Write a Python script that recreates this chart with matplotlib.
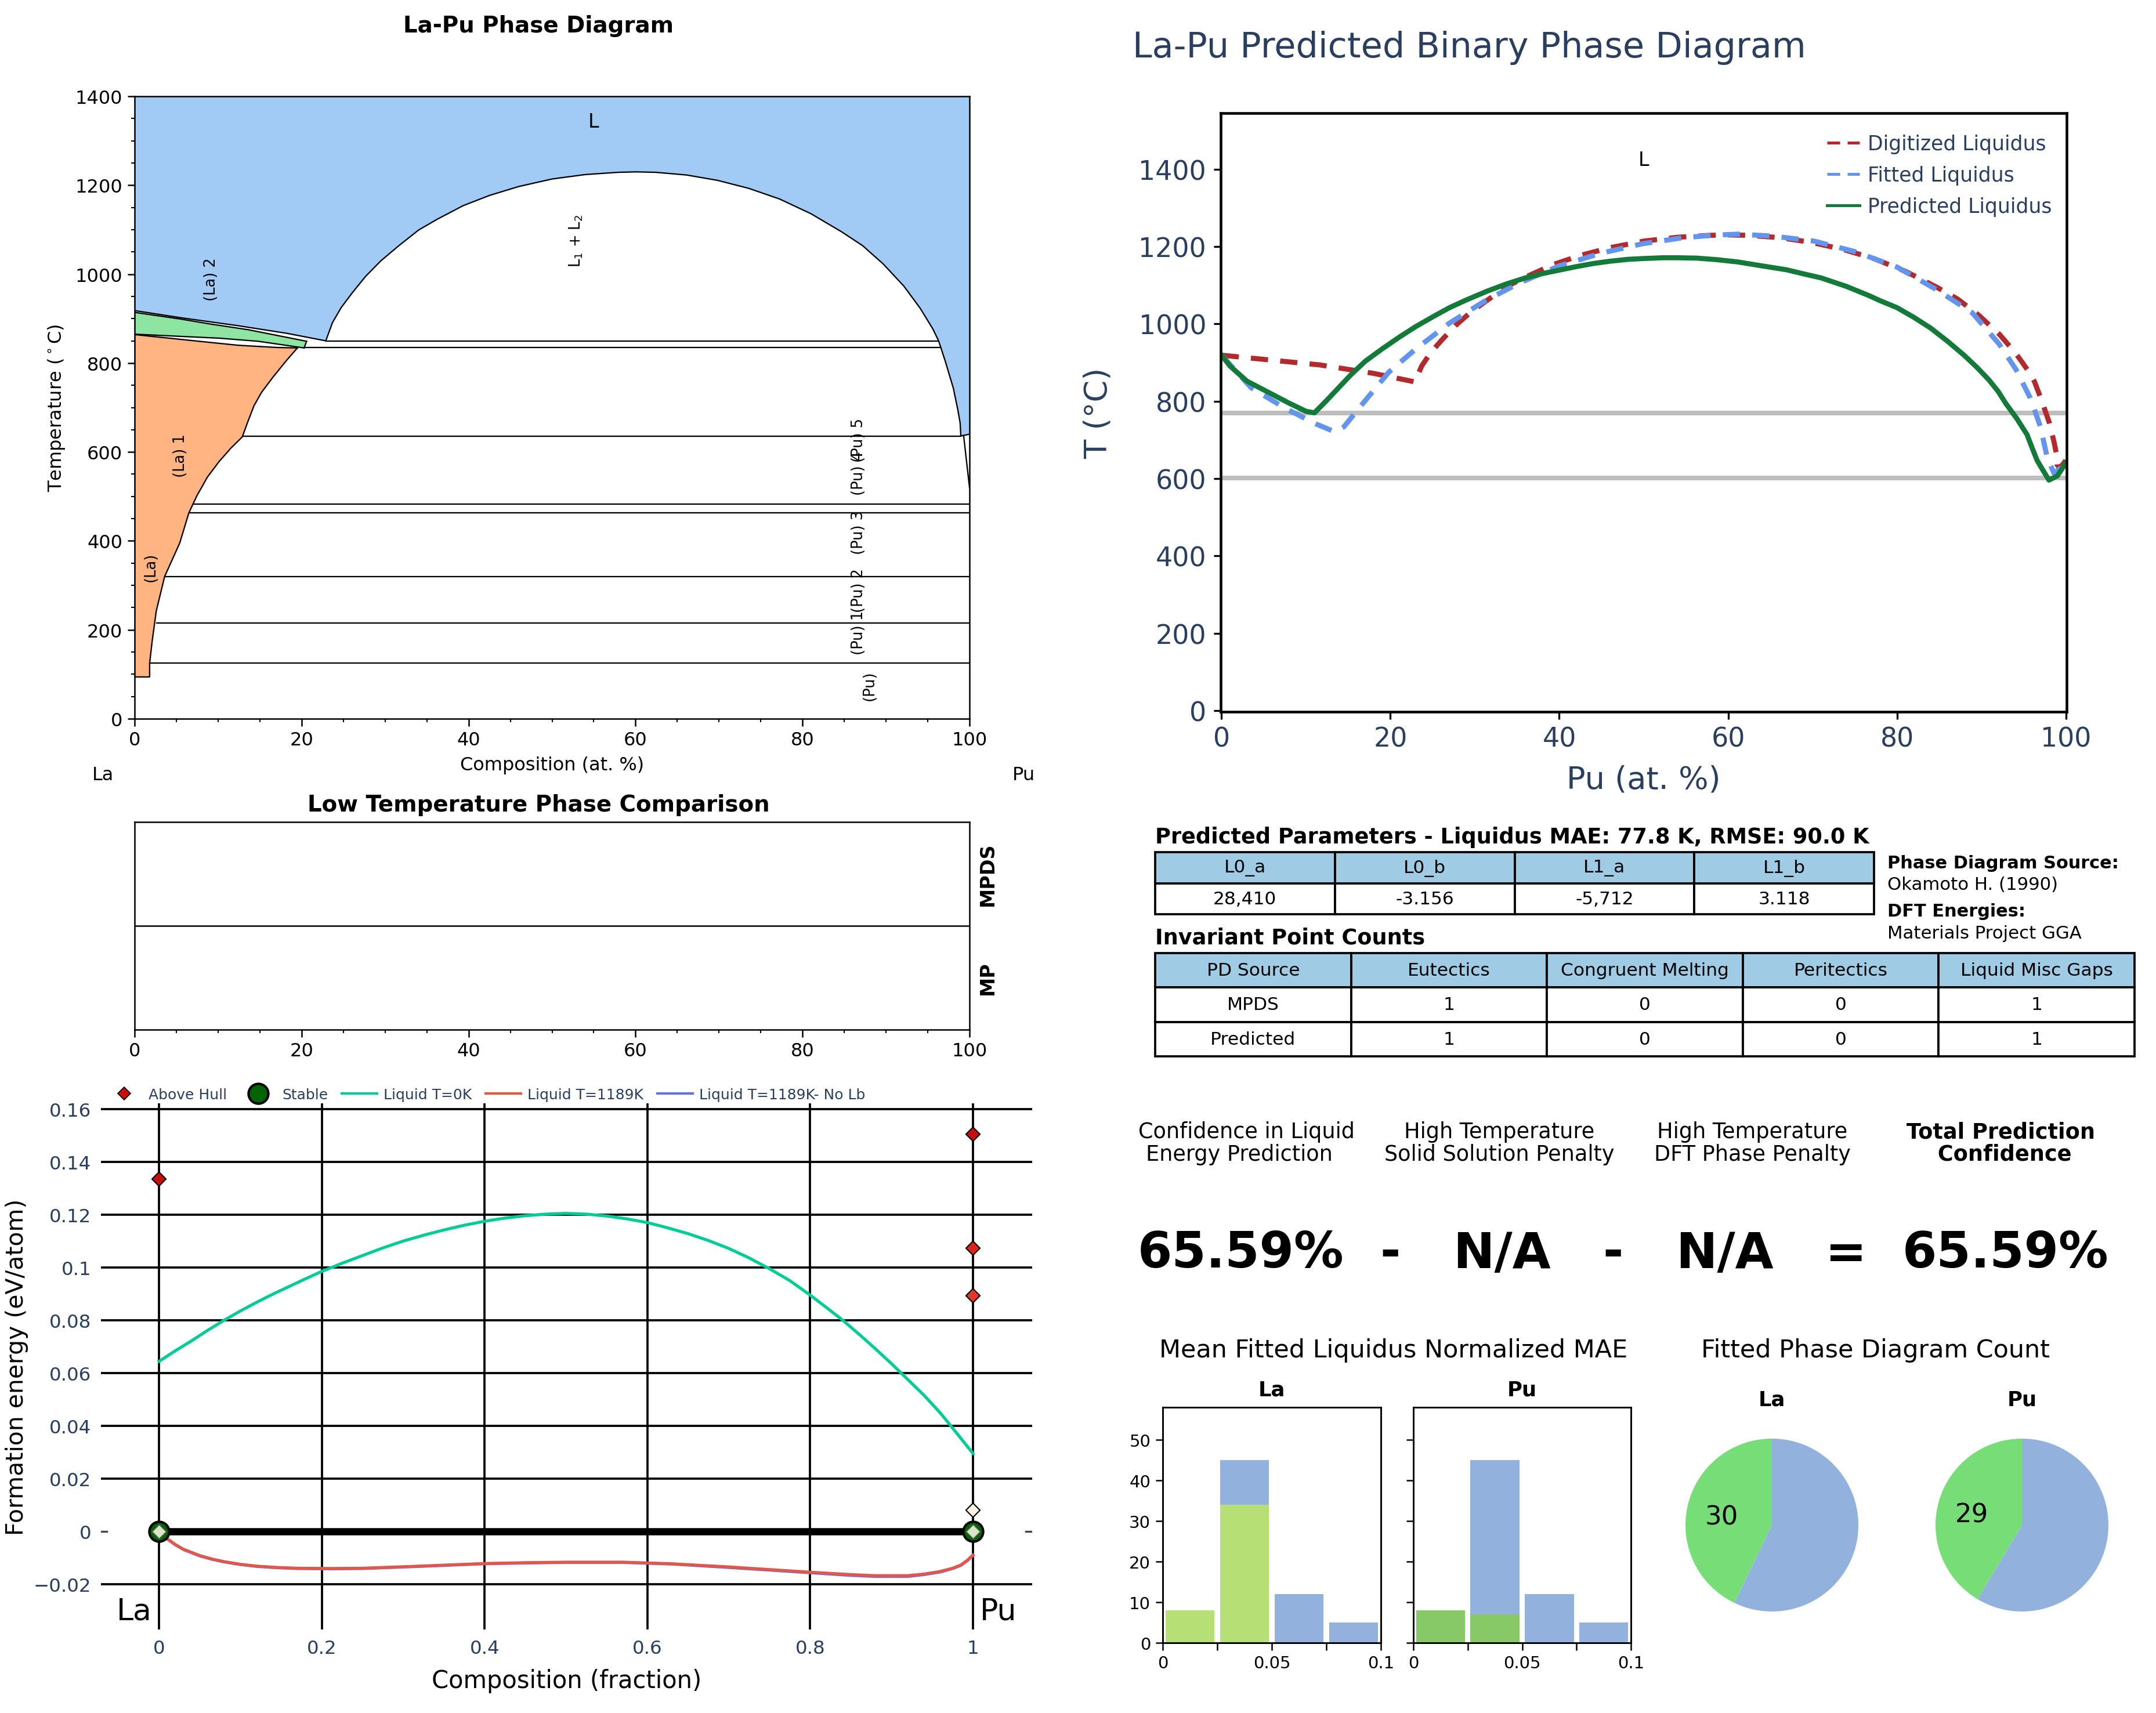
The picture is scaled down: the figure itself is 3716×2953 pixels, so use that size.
import matplotlib
matplotlib.use("Agg")
import matplotlib.pyplot as plt
from matplotlib.lines import Line2D

W, H = 3716, 2954
NAVY = "#2a3f5f"

# ---- phase diagram boundaries (at.% Pu, deg C)
dome_x = [22.9, 23.7, 24.75, 26.07, 27.67, 29.5, 31.65, 34, 36.2, 39.35, 42.5, 46, 50, 54, 57.9, 60.1, 62.4, 66.1, 69.8,
          73.55, 77.25, 81, 84.7, 87.2, 89.66, 92.14, 94.1, 95.6, 96.3, 97.1, 98.07, 98.6, 98.88, 98.96]
dome_y = [850, 891, 925, 958, 995, 1030, 1064, 1099, 1123, 1154, 1177, 1197, 1214, 1224, 1229, 1230, 1229, 1223, 1211,
          1193, 1169, 1136, 1095, 1064, 1023, 973, 923, 877, 850, 804, 743, 695, 665, 636]
solv_top_x = [0, 5.5, 12.4, 18.2, 22.9]
solv_top_y = [918, 902, 884, 867, 850]
la2_upper_x = [0, 5.5, 9, 13.6, 17.1, 20.6]
la2_upper_y = [914, 899, 888, 875, 862, 849]
la2_lower_x = [0, 5.5, 10.1, 14.8, 20.3]
la2_lower_y = [865, 860, 856, 849, 834]
la1_top_x = [0, 3.1, 7.7, 12.4, 17.1, 19.5]
la1_top_y = [864, 858, 849, 840, 835, 834]
la1_right_x = [19.5, 18.2, 16.6, 15.2, 14.3, 13.5, 12.9, 11.5, 10.1, 8.7, 8.05, 7.5, 7, 6.5, 5.4, 3.6, 2.6, 2.1, 1.8, 1.8, 0]
la1_right_y = [834, 806, 769, 734, 704, 665, 634, 608, 578, 543, 521, 503, 483, 463, 395, 320, 243, 174, 125, 94, 94]
tie_y = [850, 835, 635, 483, 463, 320, 215, 125]
tie_x0 = [22.9, 20.3, 12.9, 7, 6.5, 3.6, 2.6, 1.9]
tie_x1 = [96.3, 96.65, 98.96, 100, 100, 100, 100, 100]
pu_top_x = [98.96, 100]
pu_top_y = [636, 640]
pu_solv_x = [99.3, 100]
pu_solv_y = [636, 520]
phase_labels = ["L", "L$_1$ + L$_2$", "(La) 2", "(La) 1", "(La)", "(Pu) 5", "(Pu) 4", "(Pu) 3", "(Pu) 2", "(Pu) 1", "(Pu)"]
phase_x = [55, 52.9, 9.2, 5.5, 1.9, 86.7, 86.7, 86.7, 86.7, 86.7, 88]
phase_y = [1343, 1076, 989, 593, 342, 628, 553, 420, 290, 195, 75]

# ---- liquidus curves
dig_x = [0, 11.6, 18] + dome_x + [99.3, 100]
dig_y = [919, 894, 872] + dome_y + [627, 647]
fit_x = [0, 3.5, 7.6, 11.2, 13.4, 14.5, 16.5, 19.8, 23, 27, 31.1, 35.2, 40, 45, 49.8, 54.7, 58.8, 61.2, 65.3, 70.2, 75, 80, 84.8, 88.9, 92.1, 94.1, 95.8, 97, 97.8, 98.6, 99.4, 100]
fit_y = [919, 835, 781, 741, 721, 734, 788, 875, 935, 1002, 1058, 1105, 1150, 1183, 1207, 1223, 1230, 1232, 1227, 1214, 1187, 1147, 1087, 1029, 948, 882, 808, 734, 654, 614, 627, 640]
pred_x = [0, 1, 3, 5.9, 8, 10, 11, 12.4, 15.3, 17, 19, 21, 23, 25, 27, 29, 31.5, 33.7, 36, 38, 40, 42, 44, 46, 48.2, 50, 52.3, 54, 56.3, 58.7, 61.2, 64,
          66.9, 69, 71, 74, 76.7, 78, 80, 82, 84, 86, 88, 89.5, 90.9, 92, 92.9, 94.2, 95.4, 96, 96.6, 97.2, 98, 99, 100]
pred_y = [919, 891, 852, 819, 795, 774, 770, 801, 868, 903, 935, 965, 993, 1018, 1042, 1062, 1085, 1103, 1119, 1130, 1139, 1148, 1156, 1162, 1167, 1169, 1171, 1171, 1170, 1166, 1160, 1150,
          1140, 1129, 1119, 1097, 1073, 1060, 1042, 1017, 989, 955, 918, 887, 855, 825, 794, 755, 714, 680, 647, 625, 596, 607, 640]
invariant_t = [770, 601]

# ---- formation energies
liq0_x = [0, 0.02, 0.04, 0.06, 0.08, 0.1, 0.12, 0.14, 0.16, 0.18, 0.2, 0.225, 0.25, 0.275, 0.3, 0.325, 0.35, 0.375, 0.4, 0.425, 0.45, 0.475, 0.5,
          0.525, 0.55, 0.575, 0.6, 0.625, 0.65, 0.675, 0.7, 0.725, 0.75, 0.775, 0.8, 0.82, 0.84, 0.86, 0.88, 0.9, 0.92, 0.94, 0.96, 0.98, 1]
liq0_y = [0.0644, 0.0684, 0.0722, 0.0762, 0.08, 0.0835, 0.0868, 0.0899, 0.0928, 0.0957, 0.0985, 0.1016, 0.1045, 0.1074, 0.11, 0.1122, 0.1142, 0.116, 0.1175, 0.1187, 0.1196, 0.1202, 0.1205,
          0.1202, 0.1195, 0.1184, 0.117, 0.115, 0.1128, 0.1102, 0.1072, 0.1036, 0.0995, 0.095, 0.0895, 0.0848, 0.08, 0.0747, 0.0692, 0.0635, 0.0575, 0.0515, 0.0448, 0.0372, 0.0295]
liqT_x = [0.005, 0.01, 0.02, 0.03, 0.05, 0.065, 0.08, 0.1, 0.12, 0.145, 0.17, 0.21, 0.25, 0.32, 0.4, 0.45, 0.5, 0.57, 0.63, 0.7, 0.75, 0.8, 0.85, 0.88, 0.92, 0.94, 0.96, 0.975, 0.985, 0.993, 1]
liqT_y = [-0.0015, -0.0028, -0.0050, -0.0068, -0.0092, -0.0105, -0.0115, -0.0125, -0.0132, -0.0137, -0.0140, -0.0141, -0.0140, -0.0132, -0.0122, -0.0119, -0.0117, -0.0117, -0.0123, -0.0135, -0.0145, -0.0155, -0.0164, -0.0168, -0.0168, -0.0162, -0.0152, -0.0140, -0.0128, -0.0110, -0.0090]
nolb_y = [-0.0016, -0.0029, -0.0051, -0.0069, -0.0093, -0.0106, -0.0116, -0.0126, -0.0133, -0.0138, -0.0141, -0.0142, -0.0141, -0.0133, -0.0123, -0.0120, -0.0118, -0.0118, -0.0124, -0.0137, -0.0147, -0.0157, -0.0167, -0.0171, -0.0171, -0.0164, -0.0154, -0.0141, -0.0129, -0.0111, -0.0091]
hull_x = [0, 1, 1, 1, 1]
hull_y = [0.1335, 0.1505, 0.1073, 0.0893, 0.008]
hull_c = ["#c40f0f", "#c40f0f", "#d8251d", "#e03a26", "#fdf3e3"]
stable_x = [0, 1]
stable_y = [0, 0]

# ---- tables and text
params_head = ["L0_a", "L0_b", "L1_a", "L1_b"]
params_row = ["28,410", "-3.156", "-5,712", "3.118"]
inv_head = ["PD Source", "Eutectics", "Congruent Melting", "Peritectics", "Liquid Misc Gaps"]
inv_rows = [["MPDS", "1", "0", "0", "1"], ["Predicted", "1", "0", "0", "1"]]

# ---- histograms and pies
bin_left = [0, 0.025, 0.05, 0.075]
hist_all = [8, 45, 12, 5]
hist_la = [8, 34, 0, 0]
hist_pu = [8, 7, 0, 0]
pie_la = [30, 40]
pie_pu = [29, 41]

plt.rcParams["font.family"] = "DejaVu Sans"
plt.rcParams["mathtext.default"] = "regular"
fig = plt.figure(figsize=(W / 300, H / 300), dpi=300)


def box(l, t, r, b):
    return fig.add_axes([l / W, 1 - b / H, (r - l) / W, (b - t) / H])


def label(x, y, s, **kw):
    kw.setdefault("ha", "center")
    kw.setdefault("va", "center")
    fig.text(x / W, 1 - y / H, s, **kw)


# --- top left: digitised phase diagram
ax = box(232, 167, 1671, 1240)
ax.set_xlim(0, 100)
ax.set_ylim(0, 1400)
ax.fill(solv_top_x + dome_x + pu_top_x[1:] + [100, 0], solv_top_y + dome_y + pu_top_y[1:] + [1400, 1400], color="#a1caf4", lw=0)
ax.fill(la2_upper_x + la2_lower_x[::-1], la2_upper_y + la2_lower_y[::-1], color="#8de5a1", lw=0)
ax.fill(la1_top_x + la1_right_x, la1_top_y + la1_right_y, color="#ffb482", lw=0)
for xs, ys in [(dome_x, dome_y), (solv_top_x, solv_top_y), (la2_upper_x, la2_upper_y),
               (la2_lower_x, la2_lower_y), (la1_top_x, la1_top_y), (la1_right_x, la1_right_y),
               (pu_solv_x, pu_solv_y), (pu_top_x, pu_top_y)]:
    ax.plot(xs, ys, color="black", lw=0.55)
ax.plot([la2_upper_x[-1], la2_lower_x[-1]], [la2_upper_y[-1], la2_lower_y[-1]], color="black", lw=0.55)
ax.hlines(tie_y, tie_x0, tie_x1, color="black", lw=0.55)
for s, x, y in zip(phase_labels, phase_x, phase_y):
    ax.text(x, y, s, fontsize=6.2 if s != "L" else 8, rotation=0 if s == "L" else 90, ha="center", va="center")
ax.set_xticks(range(0, 101, 20))
ax.set_xticks(range(0, 101, 5), minor=True)
ax.set_yticks(range(0, 1401, 200))
ax.set_yticks(range(0, 1401, 50), minor=True)
ax.tick_params(labelsize=7.7, width=0.6, length=3, pad=2)
ax.tick_params(which="minor", width=0.5, length=1.5)
ax.set_xlabel("Composition (at. %)", fontsize=7.7, labelpad=3)
ax.set_ylabel("Temperature ($^\\circ$C)", fontsize=7.7, labelpad=3.5)
for s in ax.spines.values():
    s.set_linewidth(0.6)
label(928, 45, "La-Pu Phase Diagram", fontsize=9.3, fontweight="bold")
label(178, 1337, "La", fontsize=7.7)
label(1764, 1337, "Pu", fontsize=7.7)

# --- top right: predicted liquidus
ax = box(2104, 196, 3562, 1228)
ax.set_xlim(-0.1, 100.1)
ax.set_ylim(-3, 1545)
ax.hlines(invariant_t, 0, 100, color="#bdbdbd", lw=1.9, zorder=1)
ax.plot(dig_x, dig_y, color="#b22a2e", lw=2.1, ls=(0, (3.4, 2.4)), label="Digitized Liquidus")
ax.plot(fit_x, fit_y, color="#6495ed", lw=2.1, ls=(0, (3.4, 2.4)), label="Fitted Liquidus")
ax.plot(pred_x, pred_y, color="#137a3a", lw=2.1, label="Predicted Liquidus")
ax.text(50, 1424, "L", fontsize=8, ha="center", va="center")
ax.set_xticks(range(0, 101, 20))
ax.set_yticks(range(0, 1401, 200))
ax.tick_params(labelsize=11, labelcolor=NAVY, length=3, width=0.8, pad=3)
ax.set_xlabel("Pu (at. %)", fontsize=13, color=NAVY, labelpad=5)
ax.set_ylabel("T (°C)", fontsize=13, color=NAVY, labelpad=10.5)
leg = ax.legend(loc="upper right", bbox_to_anchor=(1, 0.99), frameon=False, fontsize=8.3, labelcolor=NAVY,
                handlelength=1.6, handletextpad=0.4, labelspacing=0.58, borderaxespad=0.35)
for line, dashed in zip(leg.get_lines(), [True, True, False]):
    line.set_linewidth(1.2)
    if dashed:
        line.set_linestyle((0, (4.4, 2.6)))
for s in ax.spines.values():
    s.set_linewidth(1.1)
label(1952, 82, "La-Pu Predicted Binary Phase Diagram", fontsize=14.5, color=NAVY, ha="left")

# --- low temperature comparison strips
ax = box(232, 1418, 1671, 1776)
ax.set_xlim(0, 100)
ax.set_ylim(0, 2)
ax.axhline(1, color="black", lw=0.6)
ax.set_yticks([])
ax.set_xticks(range(0, 101, 20))
ax.set_xticks(range(0, 101, 5), minor=True)
ax.tick_params(labelsize=7.7, width=0.6, length=3, pad=2)
ax.tick_params(which="minor", width=0.5, length=1.5)
ax.text(1.022, 0.75, "MPDS", transform=ax.transAxes, rotation=90, fontsize=8, fontweight="bold", ha="center", va="center")
ax.text(1.022, 0.25, "MP", transform=ax.transAxes, rotation=90, fontsize=8, fontweight="bold", ha="center", va="center")
for s in ax.spines.values():
    s.set_linewidth(0.6)
label(928, 1388, "Low Temperature Phase Comparison", fontsize=9.3, fontweight="bold")

# --- bottom left: formation energies
ax = box(174, 1903, 1779, 2810)
ax.set_xlim(-0.0713, 1.0727)
ax.set_ylim(-0.0372, 0.1622)
ax.set_yticks([-0.02, 0, 0.02, 0.04, 0.06, 0.08, 0.1, 0.12, 0.14, 0.16])
ax.set_yticklabels(["−0.02", "0", "0.02", "0.04", "0.06", "0.08", "0.1", "0.12", "0.14", "0.16"])
ax.set_xticks([0, 0.2, 0.4, 0.6, 0.8, 1])
ax.set_xticklabels(["0", "0.2", "0.4", "0.6", "0.8", "1"])
ax.grid(True, color="black", lw=0.9)
ax.get_ygridlines()[1].set_visible(False)
ax.set_axisbelow(True)
ax.tick_params(length=0, labelsize=7.8, labelcolor=NAVY, pad=4)
for s in ax.spines.values():
    s.set_visible(False)
# short stubs of the zero line at the plot edges
stub = ax.get_yaxis_transform()
ax.plot([0, 0.006], [0, 0], color="#444444", lw=0.8, transform=stub)
ax.plot([0.993, 1], [0, 0], color="#444444", lw=0.8, transform=stub)
ax.plot([0, 1], [0, 0], color="black", lw=3, zorder=3)
ax.plot(liq0_x, liq0_y, color="#00cc96", lw=1.25, zorder=3)
ax.plot(liqT_x, nolb_y, color="#636efa", lw=1.25, zorder=3)
ax.plot(liqT_x, liqT_y, color="#e0584a", lw=1.25, zorder=3)
ax.plot(stable_x, stable_y, ls="", marker="o", ms=8.2, mfc="#006400", mec="black", mew=1, zorder=4)
ax.scatter(hull_x, hull_y, c=hull_c, marker="D", s=17, edgecolors="black", linewidths=0.5, zorder=5)
ax.scatter(stable_x, stable_y, c="#d9e5c8", marker="D", s=17, edgecolors="#556655", linewidths=0.4, zorder=5)
ax.text(-0.0306, -0.0302, "La", fontsize=12.5, color="black", ha="center", va="center")
ax.text(1.031, -0.0302, "Pu", fontsize=12.5, color="black", ha="center", va="center")
ax.set_xlabel("Composition (fraction)", fontsize=10, color="black", labelpad=4.7)
ax.set_ylabel("Formation energy (eV/atom)", fontsize=9.8, color="black", labelpad=2)
handles = [
    Line2D([], [], ls="", marker="D", ms=3.7, mfc="#c40f0f", mec="black", mew=0.4, label="Above Hull"),
    Line2D([], [], ls="", marker="o", ms=8.2, mfc="#006400", mec="black", mew=1, label="Stable"),
    Line2D([], [], color="#00cc96", lw=1, label="Liquid T=0K"),
    Line2D([], [], color="#ef553b", lw=1, label="Liquid T=1189K"),
    Line2D([], [], color="#636efa", lw=1, label="Liquid T=1189K- No Lb"),
]
ax.legend(handles=handles, loc="center left", bbox_to_anchor=(0.006, 1.0165), ncol=5, frameon=False, fontsize=6,
          labelcolor=NAVY, handlelength=2.44, handletextpad=0.44, columnspacing=0.95, borderaxespad=0, borderpad=0)

# --- tables
ax = box(1991, 1470, 3230, 1577)
ax.axis("off")
t = ax.table(cellText=[params_head, params_row], cellLoc="center", bbox=[0, 0, 1, 1])
t.auto_set_font_size(False)
t.set_fontsize(7.5)
for (r, c), cell in t.get_celld().items():
    cell.set_linewidth(0.9)
    if r == 0:
        cell.set_facecolor("#a0cbe4")
label(1991, 1443, "Predicted Parameters - Liquidus MAE: 77.8 K, RMSE: 90.0 K", fontsize=8.8, fontweight="bold", ha="left")

ax = box(1991, 1644, 3679, 1822)
ax.axis("off")
t = ax.table(cellText=[inv_head] + inv_rows, cellLoc="center", bbox=[0, 0, 1, 1])
t.auto_set_font_size(False)
t.set_fontsize(7.5)
for (r, c), cell in t.get_celld().items():
    cell.set_linewidth(0.9)
    if r == 0:
        cell.set_facecolor("#a0cbe4")
label(1991, 1617, "Invariant Point Counts", fontsize=8.8, fontweight="bold", ha="left")

label(3253, 1489, "Phase Diagram Source:", fontsize=7.3, fontweight="bold", ha="left")
label(3253, 1526, "Okamoto H. (1990)", fontsize=7.4, ha="left")
label(3253, 1572, "DFT Energies:", fontsize=7.3, fontweight="bold", ha="left")
label(3253, 1610, "Materials Project GGA", fontsize=7.4, ha="left")

# --- confidence row
label(2148, 1971, "Confidence in Liquid\nEnergy Prediction  ", fontsize=8.8, linespacing=1.05)
label(2584, 1971, "High Temperature\nSolid Solution Penalty", fontsize=8.8, linespacing=1.05)
label(3020, 1971, "High Temperature\nDFT Phase Penalty", fontsize=8.8, linespacing=1.05)
label(3449, 1971, "Total Prediction\n Confidence", fontsize=8.8, fontweight="bold", linespacing=1.05)
for x, s in zip([2139, 2396, 2589, 2780, 2973, 3182, 3457], ["65.59%", "-", "N/A", "-", "N/A", "=", "65.59%"]):
    label(x, 2162, s, fontsize=20.5, fontweight="bold")

label(2402, 2328, "Mean Fitted Liquidus Normalized MAE", fontsize=10.3)
label(3232, 2328, "Fitted Phase Diagram Count", fontsize=10.3)

# --- histograms
hist_colors = {"La": "#b6e076", "Pu": "#86c966"}
for name, vals, l, r in [("La", hist_la, 2004, 2380), ("Pu", hist_pu, 2436, 2811)]:
    ax = box(l, 2427, r, 2833)
    ax.bar(bin_left, hist_all, width=0.0225, align="edge", color="#92b1dc")
    ax.bar(bin_left, vals, width=0.0225, align="edge", color=hist_colors[name])
    ax.set_xlim(-0.00125, 0.09875)
    ax.set_ylim(0, 58)
    ax.set_xticks([-0.00125, 0.02375, 0.04875, 0.07375, 0.09875])
    ax.set_xticklabels(["0", "", "0.05", "", "0.1"])
    ax.set_yticks(range(0, 51, 10))
    if name == "Pu":
        ax.set_yticklabels([])
    ax.tick_params(labelsize=7, length=3, width=0.6, pad=2)
    ax.set_title(name, fontsize=8.5, fontweight="bold", pad=5)
    for s in ax.spines.values():
        s.set_linewidth(0.7)

# --- pies
for name, vals, cx in [("La", pie_la, 3054), ("Pu", pie_pu, 3485)]:
    ax = box(cx - 149, 2630 - 149, cx + 149, 2630 + 149)
    _, texts = ax.pie(vals, colors=["#77dd77", "#92b1dc"], startangle=90, labels=[str(vals[0]), ""], labeldistance=0.6,
                      textprops={"fontsize": 10.8, "ha": "center", "va": "center"}, radius=1.0)
    texts[0].set_y(texts[0].get_position()[1] - 0.04)
    ax.set_xlim(-1, 1)
    ax.set_ylim(-1, 1)
    label(cx, 2413, name, fontsize=8.5, fontweight="bold")

fig.savefig("out.png", dpi=300, facecolor="white")
